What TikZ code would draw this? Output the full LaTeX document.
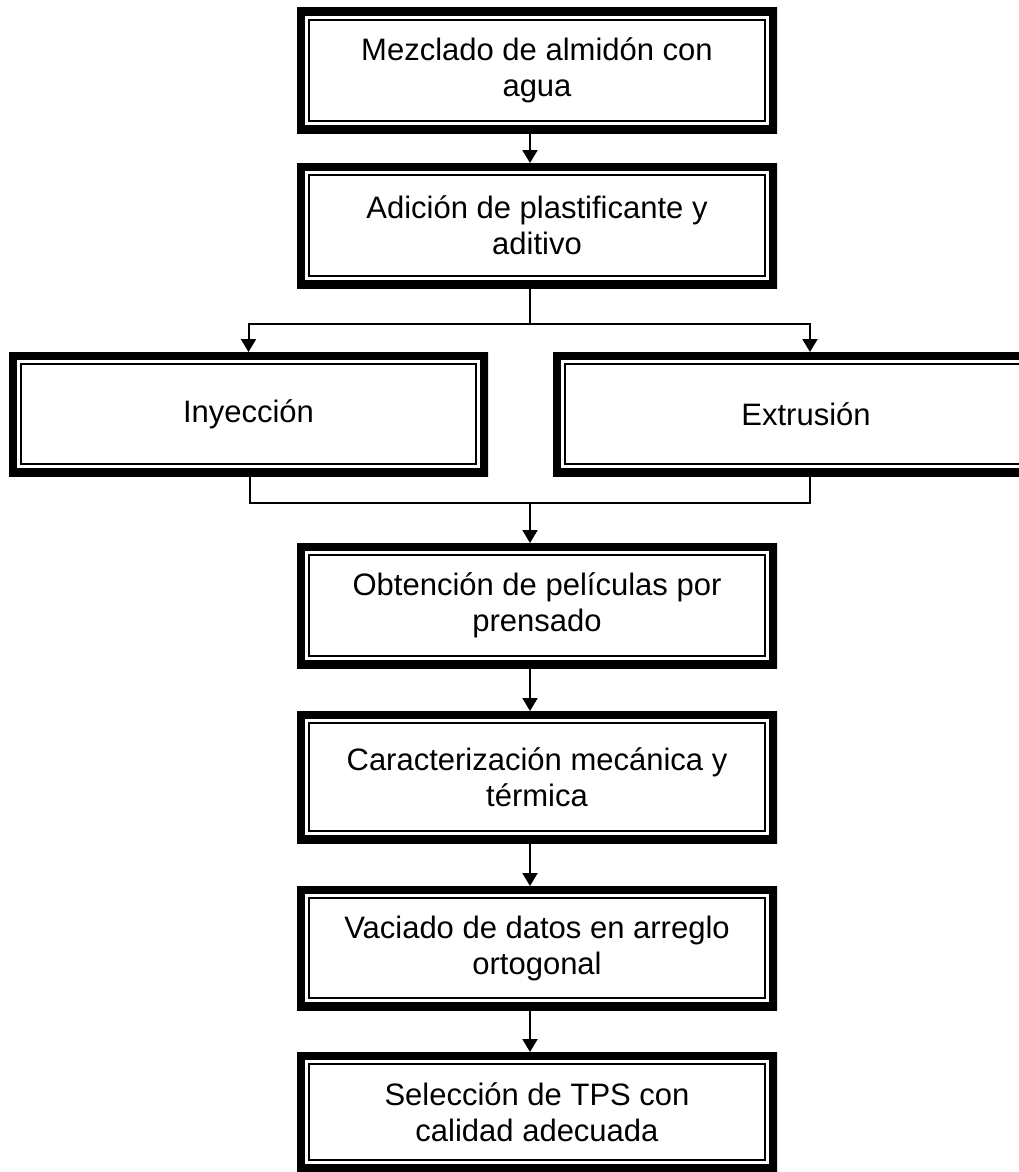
\documentclass[tikz,border=0pt]{standalone}
\usepackage{fontspec}
\setmainfont{Liberation Sans}
\usetikzlibrary{arrows.meta}
\begin{document}
\begin{tikzpicture}[x=1pt,y=-1pt,
  box/.style={rectangle, inner sep=0pt, outer sep=0pt, align=center,
    minimum width=480pt, minimum height=125pt,
    font=\fontsize{31}{36}\selectfont,
    path picture={
      \draw[line width=16pt] (path picture bounding box.north west) rectangle (path picture bounding box.south east);
      \draw[line width=2pt] ([shift={(12pt,-12pt)}]path picture bounding box.north west) rectangle ([shift={(-12pt,12pt)}]path picture bounding box.south east);
    }},
  conn/.style={line width=2pt},
  arr/.style={conn, -{Triangle[width=15pt,length=13pt]}}]
\useasboundingbox[fill=white] (0,0) rectangle (1019,1172);

\node[box] (m1) at (537,70.5) {Mezclado de almidón con\\agua};
\node[box] (m2) at (537,225.5) {Adición de plastificante y\\aditivo};
\node[box, minimum width=479pt, minimum height=124pt] (iny) at (248.5,414) {Inyección};
\node[box, minimum width=506pt, minimum height=124pt] (ext) at (806,414) {Extrusión};
\node[box] (obt) at (537,605.5) {Obtención de películas por\\prensado};
\node[box, minimum height=132pt] (car) at (537,777) {Caracterización mecánica y\\térmica};
\node[box, minimum height=124pt] (vac) at (537,948) {Vaciado de datos en arreglo\\ortogonal};
\node[box, minimum height=120pt] (sel) at (537,1112) {Selección de TPS con\\calidad adecuada};

\coordinate (cx) at (530,0);
\coordinate (split) at (530,324);
\coordinate (join) at (530,503);
\coordinate (extx) at (810,0);
\coordinate (injx) at (250,0);

\draw[arr] (m1.south -| cx) -- (m2.north -| cx);
\draw[conn] (m2.south -| split) -- (split);
\draw[arr] (split) -| (iny.north);
\draw[arr] (split) -| (ext.north -| extx);
\draw[conn] (iny.south -| injx) |- (join) -| (ext.south -| extx);
\draw[arr] (join) -- (obt.north -| join);
\draw[arr] (obt.south -| cx) -- (car.north -| cx);
\draw[arr] (car.south -| cx) -- (vac.north -| cx);
\draw[arr] (vac.south -| cx) -- (sel.north -| cx);
\end{tikzpicture}
\end{document}
